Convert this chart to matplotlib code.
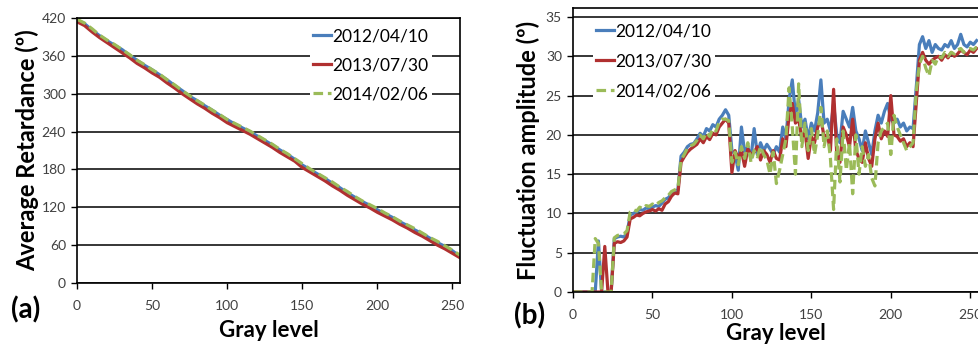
import matplotlib
matplotlib.use("Agg")
import matplotlib.pyplot as plt
import numpy as np

plt.rcParams["font.family"] = ["Lato", "DejaVu Sans"]

SERIES = ["2012/04/10", "2013/07/30", "2014/02/06"]
COLORS = ["#4a7ebb", "#b03030", "#9bbb59"]

# panel (a): average retardance, sampled every 5 gray levels
gray_a = list(range(0, 256, 5))
ret_2012 = [417, 411, 401, 392, 384, 377, 370, 361, 353, 345, 338, 330, 322, 313, 305, 296,
            289, 281, 274, 266, 259, 252, 246, 240, 233, 226, 219, 211, 204, 196, 187, 180,
            173, 166, 158, 151, 143, 136, 129, 123, 116, 110, 104, 97, 91, 84, 78, 71,
            64, 58, 51, 42]
ret_2013 = [414, 408, 398, 389, 381, 373, 365, 357, 348, 341, 333, 326, 317, 309, 300, 292,
            284, 277, 269, 262, 254, 248, 242, 236, 229, 222, 215, 207, 200, 193, 183, 176,
            169, 162, 154, 147, 139, 132, 125, 119, 112, 106, 100, 93, 87, 80, 74, 67,
            60, 54, 47, 40]
ret_2014 = [418, 412, 403, 393, 385, 378, 370, 362, 353, 346, 338, 331, 322, 314, 305, 297,
            289, 282, 274, 267, 259, 253, 247, 241, 234, 227, 220, 212, 205, 197, 189, 181,
            174, 167, 160, 152, 145, 137, 130, 124, 118, 111, 105, 98, 92, 86, 79, 72,
            66, 59, 52, 44]

# panel (b): fluctuation amplitude, sampled every 2 gray levels
gray_b = list(range(0, 256, 2))
amp_2012 = [0, 0, 0, 0, 0, 0, 0, 0, 6.5, 0, 0, 0, 0, 6.8, 7.0, 7.1,
            7.0, 7.5, 9.8, 10.0, 10.2, 10.5, 10.4, 10.7, 10.6, 10.8, 11.0, 10.9, 11.3, 11.8, 12.0, 12.5,
            12.8, 13.0, 17.3, 17.8, 18.5, 18.8, 18.9, 19.5, 20.2, 19.8, 20.8, 20.5, 21.3, 21.0, 22.0, 22.5,
            23.2, 22.5, 18.0, 17.5, 15.5, 21.0, 17.8, 18.5, 17.0, 20.8, 17.5, 19.0, 18.0, 18.8, 18.2, 17.5,
            18.5, 17.8, 21.0, 19.5, 24.5, 27.0, 22.5, 24.5, 21.0, 22.0, 19.5, 21.5, 20.5, 22.8, 27.0, 21.5,
            22.0, 20.5, 24.0, 20.0, 19.0, 23.0, 22.0, 21.0, 23.5, 20.5, 19.5, 18.0, 20.5, 19.0, 17.5, 20.5,
            22.5, 21.5, 23.0, 24.0, 22.0, 21.5, 22.0, 21.0, 21.5, 20.5, 21.0, 20.8, 26.0, 31.5, 32.5, 31.0,
            32.0, 30.5, 31.5, 31.0, 30.8, 31.5, 31.2, 32.0, 31.0, 31.5, 32.8, 31.5, 31.2, 31.8, 31.5, 32.0]
amp_2013 = [0, 0, 0, 0, 0, 0, 0, 0, 0, 0, 5.8, 0, 0, 6.2, 6.4, 6.3,
            6.5, 7.0, 9.3, 9.5, 9.8, 9.7, 10.0, 10.2, 10.3, 10.5, 10.3, 10.6, 10.4, 11.2, 11.5, 12.2,
            12.6, 12.5, 16.5, 17.2, 17.8, 18.2, 18.5, 18.8, 19.5, 19.0, 19.8, 19.4, 20.2, 20.0, 21.0, 21.5,
            22.0, 21.5, 15.2, 18.0, 17.0, 18.0, 16.0, 18.2, 17.5, 17.8, 18.5, 16.8, 18.0, 17.5, 16.5, 18.0,
            17.0, 16.8, 19.5, 18.5, 22.5, 24.0, 21.5, 22.0, 19.5, 20.5, 17.0, 19.8, 19.0, 21.0, 22.0, 19.8,
            20.0, 18.0, 25.8, 17.5, 16.5, 21.0, 20.0, 18.5, 22.0, 18.0, 17.0, 16.5, 19.0, 17.0, 16.0, 19.5,
            21.5, 19.5, 20.5, 19.8, 25.0, 20.0, 19.8, 19.2, 19.5, 18.5, 19.0, 18.5, 24.0, 29.5, 30.5, 29.5,
            29.0, 29.5, 29.8, 30.0, 29.5, 30.2, 29.8, 30.5, 30.0, 30.3, 30.8, 30.5, 30.2, 30.8, 30.5, 31.0]
amp_2014 = [0, 0, 0, 0, 0, 0, 0, 6.8, 6.2, 0, 0, 0, 0, 6.9, 7.2, 7.3,
            7.4, 7.8, 10.2, 10.5, 10.3, 10.8, 10.6, 11.0, 10.9, 11.2, 11.0, 11.4, 11.6, 12.0, 12.3, 12.8,
            13.0, 13.2, 16.8, 17.5, 18.3, 18.6, 18.8, 19.3, 20.0, 19.5, 20.3, 19.8, 20.8, 20.5, 21.6, 22.0,
            22.0, 21.8, 16.5, 17.8, 16.2, 18.5, 17.0, 19.0, 16.5, 18.0, 17.2, 18.5, 17.5, 16.8, 15.0, 17.8,
            13.8, 15.5, 17.5, 19.5, 26.0, 21.0, 15.0, 26.5, 18.5, 21.5, 18.0, 20.8, 17.5, 20.0, 23.5, 18.5,
            20.5, 17.0, 10.5, 19.5, 14.0, 20.5, 15.5, 19.0, 12.5, 20.0, 15.0, 18.5, 16.0, 17.5, 14.5, 13.5,
            19.0, 20.5, 21.0, 21.5, 17.5, 22.5, 21.0, 20.0, 19.0, 18.0, 18.5, 19.0, 25.5, 29.0, 30.0, 28.5,
            27.5, 29.5, 29.0, 30.0, 29.8, 30.5, 30.0, 30.5, 30.3, 30.8, 31.0, 30.5, 30.8, 31.0, 30.8, 31.2]

W, H = 979, 345
fig = plt.figure(figsize=(W / 100, H / 100), dpi=100)


def px_axes(x0, y0, x1, y1):
    return fig.add_axes([x0 / W, 1 - y1 / H, (x1 - x0) / W, (y1 - y0) / H])


def style(ax, yticks):
    ax.set_xticks([0, 50, 100, 150, 200, 250])
    ax.set_yticks(yticks)
    ax.tick_params(direction="out", length=4, width=1, labelsize=10,
                   labelcolor="#404040", pad=4)
    ax.tick_params(axis="x", pad=8)
    for s in ax.spines.values():
        s.set_linewidth(1.2)
    ax.yaxis.grid(True, color="black", linewidth=1.1)
    ax.set_axisbelow(True)


def plot_series(ax, x, ys):
    for y, c, lab in zip(ys, COLORS, SERIES):
        ls = (0, (3, 1.5)) if lab == "2014/02/06" else "-"
        ax.plot(x, y, color=c, lw=2.3, ls=ls, label=lab)


def add_legend(ax, x, y, spacing):
    leg = ax.legend(loc="upper left", bbox_to_anchor=(x / W, 1 - y / H),
                    bbox_transform=fig.transFigure, frameon=True, fontsize=12.5,
                    handlelength=1.0, handletextpad=0.1, labelspacing=spacing,
                    borderpad=0.2, borderaxespad=0)
    leg.get_frame().set_edgecolor("none")
    leg.get_frame().set_facecolor("white")
    leg.get_frame().set_alpha(1)


# (a)
ax1 = px_axes(77, 18, 460, 283)
plot_series(ax1, gray_a, [ret_2012, ret_2013, ret_2014])
ax1.set_xlim(0, 255)
ax1.set_ylim(0, 420)
style(ax1, range(0, 421, 60))
ax1.set_ylabel("Average Retardance (º)", fontsize=17, fontweight="bold", labelpad=2)
ax1.set_xlabel("Gray level", fontsize=16, fontweight="bold", labelpad=6)
add_legend(ax1, 310, 25, 0.75)
fig.text(11 / W, 1 - 310 / H, "(a)", fontsize=20, fontweight="bold", va="center", ha="left")

# (b)
ax2 = px_axes(573, 8, 979, 292)
plot_series(ax2, gray_b, [amp_2012, amp_2013, amp_2014])
ax2.set_xlim(0, 255.5)
ax2.set_ylim(0, 36.15)
style(ax2, range(0, 36, 5))
ax2.set_ylabel("Fluctuation amplitude (º)", fontsize=17, fontweight="bold", labelpad=4)
ax2.set_xlabel("Gray level", fontsize=16, fontweight="bold", labelpad=1.5)
add_legend(ax2, 593, 20, 0.8)
fig.text(514 / W, 1 - 316 / H, "(b)", fontsize=20, fontweight="bold", va="center", ha="left")

fig.savefig("out.png", dpi=100)
